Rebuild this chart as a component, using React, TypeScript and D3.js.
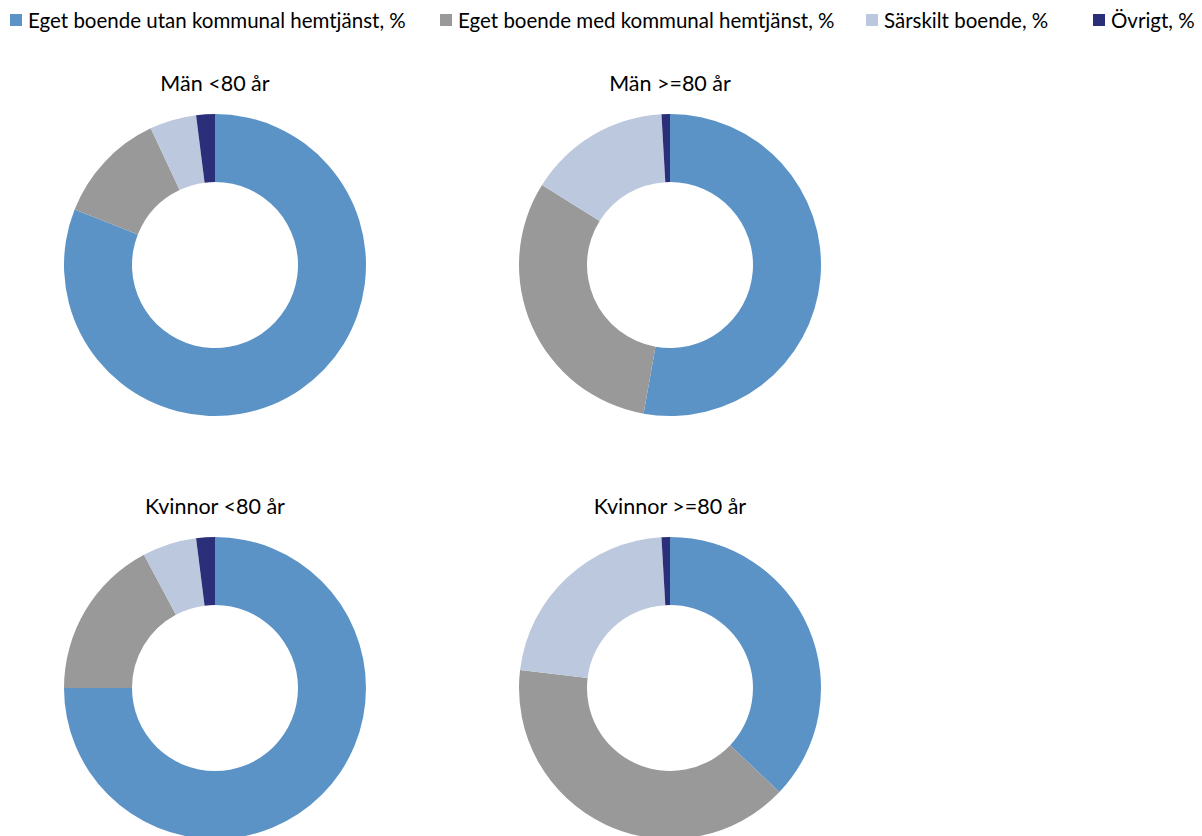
import React from "react";
import * as d3 from "d3";

const categories = [
  "Eget boende utan kommunal hemtjänst, %",
  "Eget boende med kommunal hemtjänst, %",
  "Särskilt boende, %",
  "Övrigt, %",
];
const colors = ["#5B93C7", "#999999", "#BCC8DD", "#2B2F7A"];
const panelTitles = ["Män <80 år", "Män >=80 år", "Kvinnor <80 år", "Kvinnor >=80 år"];
const manUnder80 = [81, 12, 5, 2];
const manOver80 = [52.8, 31.1, 15.2, 0.9];
const kvinnorUnder80 = [75, 17.2, 5.8, 2];
const kvinnorOver80 = [37.1, 39.8, 22.2, 0.9];
const panelValues = [manUnder80, manOver80, kvinnorUnder80, kvinnorOver80];

const W = 1202;
const H = 836;
const font = "Lato, 'Open Sans', sans-serif";

export default function App() {
  const col = d3.scalePoint<number>().domain([0, 1]).range([215, 670]);
  const row = d3.scalePoint<number>().domain([0, 1]).range([265, 688]);
  const outerR = 151;
  const innerR = 83;
  const pie = d3.pie<number>().sort(null).value((d) => d);
  const arc = d3.arc<d3.PieArcDatum<number>>().innerRadius(innerR).outerRadius(outerR);

  const legendX = [10, 440, 866, 1093];

  return (
    <svg
      width={W}
      height={H}
      style={{ position: "absolute", left: 0, top: 0 }}
      fontFamily={font}
    >
      <rect width={W} height={H} fill="#fff" />
      {categories.map((c, i) => (
        <g key={c} transform={`translate(${legendX[i]},0)`}>
          <rect x={0} y={14} width={12} height={12} fill={colors[i]} />
          <text x={18} y={28} fontSize={20.5} fill="#000">
            {c}
          </text>
        </g>
      ))}
      {panelValues.map((vals, p) => {
        const cx = col(p % 2)!;
        const cy = row(Math.floor(p / 2))!;
        return (
          <g key={p}>
            <text x={cx} y={cy - 174} textAnchor="middle" fontSize={21.5} fill="#000">
              {panelTitles[p]}
            </text>
            <g transform={`translate(${cx},${cy})`}>
              {pie(vals).map((a, i) => (
                <path key={i} d={arc(a)!} fill={colors[i]} />
              ))}
            </g>
          </g>
        );
      })}
    </svg>
  );
}
